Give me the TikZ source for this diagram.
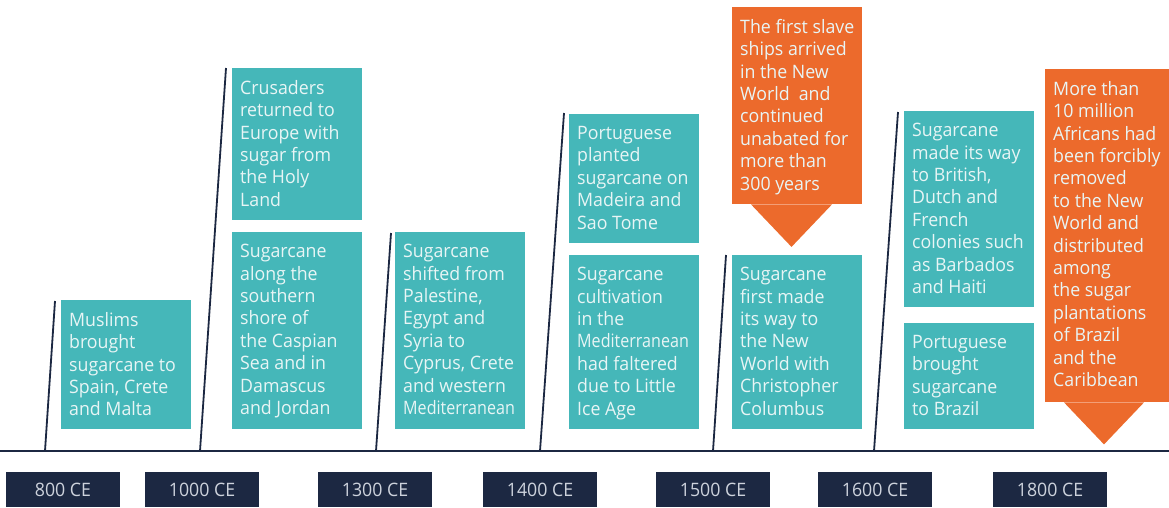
\documentclass[tikz,border=0pt]{standalone}
\usepackage{fontspec}
\setmainfont{Open Sans}[FakeStretch=0.96]
\newfontfamily\tightfont{Open Sans}[FakeStretch=0.87]
\usetikzlibrary{calc}

\definecolor{sugarteal}{RGB}{69,183,185}
\definecolor{slaveorange}{RGB}{236,106,44}
\definecolor{inknavy}{RGB}{28,40,66}
\definecolor{cardtext}{RGB}{232,245,245}
\definecolor{yeartext}{RGB}{205,210,220}

\tikzset{
  card/.style={fill=sugarteal, draw=none, inner sep=0pt, minimum width=130pt, anchor=north west},
  callout/.style={fill=slaveorange, draw=none, inner sep=0pt, anchor=north west},
  blurb/.style={anchor=north west, inner sep=0pt, align=left, text=cardtext,
    font=\fontsize{18.5}{22.4}\selectfont, execute at begin node=\strut},
  yearbox/.style={fill=inknavy, inner sep=0pt, minimum width=114pt, minimum height=35pt,
    anchor=north, text=yeartext, font=\fontsize{18.5}{22}\selectfont},
  axisline/.style={draw=inknavy, line width=2pt},
  tick/.style={draw=inknavy, line width=1.8pt}
}

\begin{document}
\begin{tikzpicture}[x=1pt,y=-1pt]
\useasboundingbox (0,0) rectangle (1169,507);

% time axis
\coordinate (axL) at (0,451);
\coordinate (axR) at (1169,451);
\draw[axisline] (axL) -- (axR);

% slanted ticks from the axis up to the event cards
\coordinate (t800b) at (45,451);   \coordinate (t800t) at (55,301);
\coordinate (t1000b) at (200,451); \coordinate (t1000t) at (226,68);
\coordinate (t1300b) at (376,451); \coordinate (t1300t) at (391,233);
\coordinate (t1400b) at (540,451); \coordinate (t1400t) at (564,113);
\coordinate (t1500b) at (713,451); \coordinate (t1500t) at (726,255);
\coordinate (t1600b) at (874,451); \coordinate (t1600t) at (898,112);
\foreach \y in {800,1000,1300,1400,1500,1600}
  \draw[tick] (t\y b) -- (t\y t);

% year labels
\node[yearbox] (y800)  at (63,472)   {800 CE};
\node[yearbox] (y1000) at (202,472)  {1000 CE};
\node[yearbox] (y1300) at (375,472)  {1300 CE};
\node[yearbox] (y1400) at (540,472)  {1400 CE};
\node[yearbox] (y1500) at (713,472)  {1500 CE};
\node[yearbox] (y1600) at (875,472)  {1600 CE};
\node[yearbox] (y1800) at (1050,472) {1800 CE};

% event cards
\node[card, minimum height=129pt] (c1) at (61,300) {};
\node[blurb] (c1t) at ($(c1.north west)+(8,12)$) {Muslims\\brought\\sugarcane to\\Spain, Crete\\and Malta};

\node[card, minimum height=152pt] (c2) at (232,68) {};
\node[blurb] (c2t) at ($(c2.north west)+(8,12)$) {Crusaders\\returned to\\Europe with\\sugar from\\the Holy\\Land};

\node[card, minimum height=197pt] (c3) at (232,232) {};
\node[blurb] (c3t) at ($(c3.north west)+(8,12)$) {Sugarcane\\along the\\southern\\shore of\\the Caspian\\Sea and in\\Damascus\\and Jordan};

\node[card, minimum height=197pt] (c4) at (395,232) {};
\node[blurb] (c4t) at ($(c4.north west)+(8,12)$) {Sugarcane\\shifted from\\Palestine,\\Egypt and\\Syria to\\Cyprus, Crete\\and western\\{\tightfont Mediterranean}};

\node[card, minimum height=129pt] (c5) at (569,114) {};
\node[blurb] (c5t) at ($(c5.north west)+(8,12)$) {Portuguese\\planted\\sugarcane on\\Madeira and\\Sao Tome};

\node[card, minimum height=174pt] (c6) at (569,255) {};
\node[blurb] (c6t) at ($(c6.north west)+(8,12)$) {Sugarcane\\cultivation\\in the\\{\tightfont Mediterranean}\\had faltered\\due to Little\\Ice Age};

\node[card, minimum height=174pt] (c7) at (732,255) {};
\node[blurb] (c7t) at ($(c7.north west)+(8,12)$) {Sugarcane\\first made\\its way to\\the New\\World with\\Christopher\\Columbus};

\node[card, minimum height=196pt] (c8) at (904,111) {};
\node[blurb] (c8t) at ($(c8.north west)+(8,12)$) {Sugarcane\\made its way\\to British,\\Dutch and\\French\\colonies such\\as Barbados\\and Haiti};

\node[card, minimum height=106pt] (c9) at (904,323) {};
\node[blurb] (c9t) at ($(c9.north west)+(8,12)$) {Portuguese\\brought\\sugarcane\\to Brazil};

% slave trade callouts with downward pointers
\node[callout, minimum width=130pt, minimum height=197pt] (o1) at (732,7) {};
\fill[slaveorange] ($(o1.south west)+(19,0)$) -- ($(o1.south west)+(100,0)$) -- ($(o1.south west)+(59.5,42.5)$) -- cycle;
\node[blurb] (o1t) at ($(o1.north west)+(8,12)$) {The first slave\\ships arrived\\in the New\\World\ \ and\\continued\\unabated for\\more than\\300 years};

\node[callout, minimum width=124pt, minimum height=333pt] (o2) at (1045,69) {};
\fill[slaveorange] ($(o2.south west)+(19,0)$) -- ($(o2.south west)+(99,0)$) -- ($(o2.south west)+(59,42)$) -- cycle;
\node[blurb] (o2t) at ($(o2.north west)+(8,12)$) {More than\\10 million\\Africans had\\been forcibly\\removed\\to the New\\World and\\distributed\\among\\the sugar\\plantations\\of Brazil\\and the\\Caribbean};

\end{tikzpicture}
\end{document}
